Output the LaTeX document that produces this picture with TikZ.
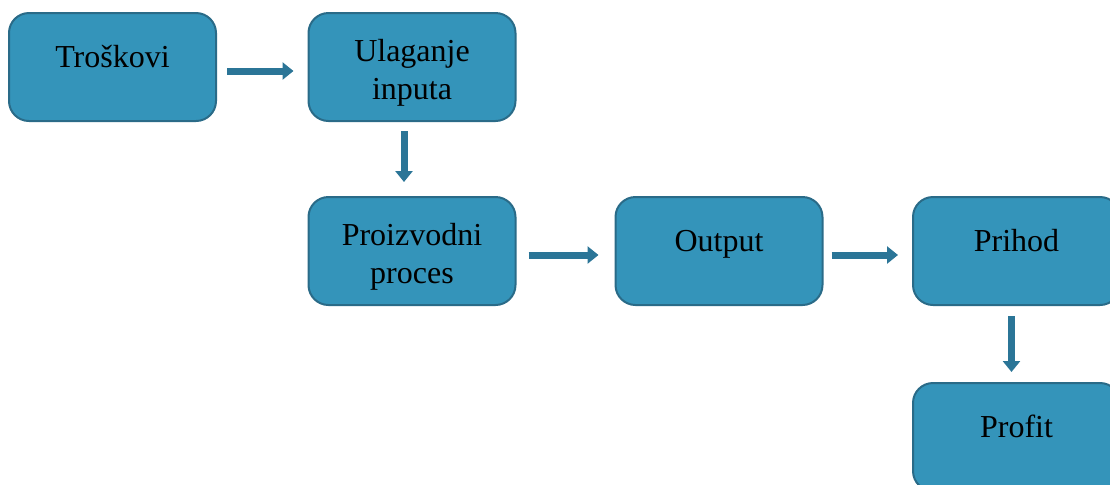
\documentclass[tikz,border=0pt]{standalone}
\usepackage{fontspec}
\setmainfont{Liberation Serif}
\usetikzlibrary{arrows.meta}
\definecolor{boxfill}{HTML}{3494BA}
\definecolor{boxline}{HTML}{2A6B88}
\definecolor{flowcol}{HTML}{2B7597}
\begin{document}
\begin{tikzpicture}[x=0.5pt,y=-0.5pt]
    \tikzset{stage/.style = {draw=boxline,fill=boxfill,line width=1pt,rounded corners=10pt,
        minimum width=103.5pt,minimum height=54pt,inner sep=0pt,align=center,
        font=\fontsize{16}{19}\selectfont}}
    \tikzset{oneline/.style = {stage,text height=27pt,text depth=27pt}}
    \tikzset{twoline/.style = {stage,text height=36pt}}
    \tikzset{flow/.style = {draw=flowcol,line width=3.5pt,-{Triangle[width=8.5pt,length=5.5pt]}}}
    \useasboundingbox (0,0) rectangle (1110,484);
    % vertices
    \node[oneline] (tr) at (112.5,67) {Troškovi};
    \node[twoline] (ul) at (412,67) {Ulaganje\\inputa};
    \node[twoline] (pp) at (412,251) {Proizvodni\\proces};
    \node[oneline] (ou) at (719,251) {Output};
    \node[oneline] (ph) at (1016.5,251) {Prihod};
    \node[oneline] (pf) at (1016.5,437) {Profit};
    % edges
    \draw[flow,shorten <=5pt,shorten >=7pt] ([yshift=-2pt]tr.east) -- ([yshift=-2pt]ul.west);
    \draw[flow,shorten <=4.5pt,shorten >=7pt] ([xshift=-4pt]ul.south) -- ([xshift=-4pt]pp.north);
    \draw[flow,shorten <=6pt,shorten >=8pt] ([yshift=-2pt]pp.east) -- ([yshift=-2pt]ou.west);
    \draw[flow,shorten <=4pt,shorten >=7pt] ([yshift=-2pt]ou.east) -- ([yshift=-2pt]ph.west);
    \draw[flow,shorten <=5pt,shorten >=5pt] ([xshift=-2.5pt]ph.south) -- ([xshift=-2.5pt]pf.north);
\end{tikzpicture}
\end{document}
